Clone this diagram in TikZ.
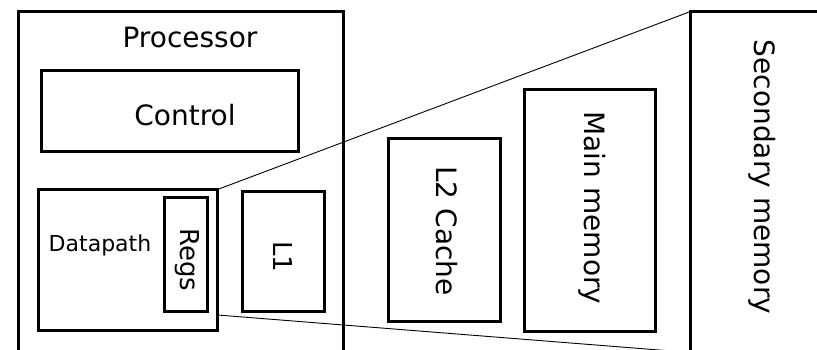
\documentclass[tikz,border=0pt]{standalone}
\usepackage{fontspec}
\setmainfont{DejaVu Sans}
\begin{document}
\begin{tikzpicture}[x=1pt,y=-1pt,
  box/.style={draw,line width=3pt,inner sep=0pt,outer sep=0pt,anchor=north west},
  big/.style={font=\fontsize{28}{30}\selectfont},
  mid/.style={font=\fontsize{26}{28}\selectfont},
  small/.style={font=\fontsize{22}{24}\selectfont},
  link/.style={line width=0.9pt}]
\useasboundingbox (0,0) rectangle (817,349);
\clip (0,0) rectangle (817,349);
% processor with control, datapath and L1
\node[box,minimum width=325,minimum height=360] (proc) at (18.5,11.5) {};
\node[big] (proctxt) at (190,37) {Processor};
\node[box,minimum width=257,minimum height=81] (ctrl) at (41.5,70.5) {};
\node[big] (ctrltxt) at (185,115) {Control};
\node[box,minimum width=179,minimum height=141] (dp) at (38.5,189.5) {};
\node[small] (dptxt) at (100,245) {Datapath};
\node[box,minimum width=43,minimum height=114] (regs) at (164.5,197.5) {};
\node[mid,rotate=-90] (regstxt) at (187,260) {Regs};
\node[box,minimum width=82,minimum height=120] (lone) at (242.5,191.5) {};
\node[mid,rotate=-90] (lonetxt) at (283,257) {L1};
% the levels further out
\node[box,minimum width=112,minimum height=183] (ltwo) at (388.5,138.5) {};
\node[big,rotate=-90] (ltwotxt) at (447,231) {L2 Cache};
\node[box,minimum width=131,minimum height=242] (mem) at (524.5,89.5) {};
\node[big,rotate=-90] (memtxt) at (592,208) {Main memory};
\node[box,minimum width=200,minimum height=341] (sec) at (690.5,11.5) {};
\node[big,rotate=-90] (sectxt) at (762,177) {Secondary memory};
% fan out from the datapath
\coordinate (dpfoot) at (217.5,315);
\draw[link] (dp.north east) -- (sec.north west);
\draw[link] (dpfoot) -- (sec.south west);
\end{tikzpicture}
\end{document}
